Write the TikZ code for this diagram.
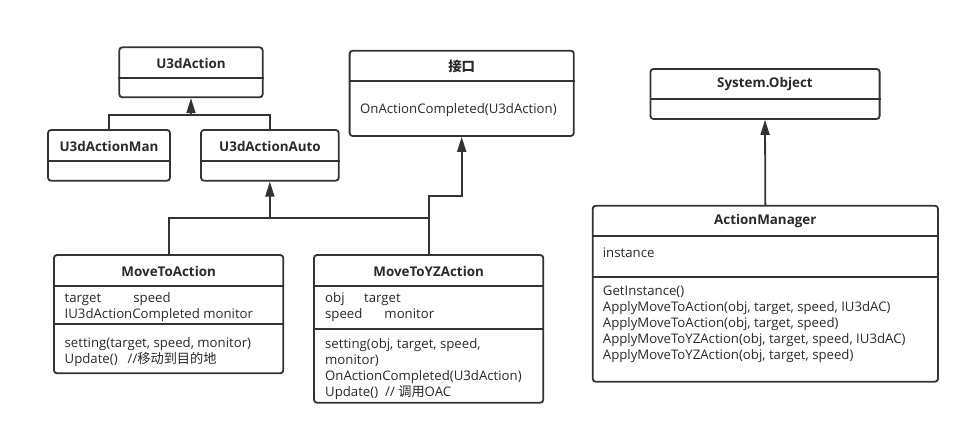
\documentclass[tikz,border=0pt]{standalone}
\usepackage{fontspec}
\setmainfont{Open Sans}
\newfontfamily\cjk{Noto Sans CJK SC}
\usetikzlibrary{arrows.meta,fit}
\definecolor{linec}{HTML}{333333}
\definecolor{textc}{HTML}{2A2A2A}
\begin{document}
\begin{tikzpicture}[x=1pt,y=-1pt,
  box/.style={draw=linec, line width=1.8pt, rounded corners=3pt, inner sep=0pt, fill=white},
  sepl/.style={draw=linec, line width=1.8pt},
  conn/.style={draw=linec, line width=1.8pt},
  inh/.style={conn, -{Triangle[length=15pt,width=9pt]}},
  ttl/.style={font=\fontsize{13.4}{15}\selectfont\bfseries, text=textc, inner sep=0pt},
  txt/.style={font=\fontsize{13.2}{16}\selectfont, text=textc, inner sep=0pt, align=left, anchor=west}]
\useasboundingbox[fill=white] (0,0) rectangle (967,435);

% boxes
\node[box, fit={(119.3,47.3) (262.7,97.3)}] (u3d) {};
\node[box, fit={(48,130) (170,180.7)}] (man) {};
\node[box, fit={(201,130) (338.7,180.7)}] (auto) {};
\node[box, fit={(349.6,50.7) (573.8,136)}] (intf) {};
\node[box, fit={(650.4,69) (879.6,119)}] (so) {};
\node[box, fit={(54,255) (283.3,373.3)}] (mta) {};
\node[box, fit={(314,255) (543.3,402.7)}] (yz) {};
\node[box, fit={(592.7,205.7) (938,381.7)}] (am) {};

% separators
\draw[sepl] (u3d.west |- 0,77.7) -- (u3d.east |- 0,77.7);
\draw[sepl] (man.west |- 0,160.7) -- (man.east |- 0,160.7);
\draw[sepl] (auto.west |- 0,160.7) -- (auto.east |- 0,160.7);
\draw[sepl] (intf.west |- 0,81) -- (intf.east |- 0,81);
\draw[sepl] (so.west |- 0,99) -- (so.east |- 0,99);
\draw[sepl] (mta.west |- 0,285.7) -- (mta.east |- 0,285.7);
\draw[sepl] (mta.west |- 0,324) -- (mta.east |- 0,324);
\draw[sepl] (yz.west |- 0,285.7) -- (yz.east |- 0,285.7);
\draw[sepl] (yz.west |- 0,329.3) -- (yz.east |- 0,329.3);
\draw[sepl] (am.west |- 0,235.7) -- (am.east |- 0,235.7);
\draw[sepl] (am.west |- 0,276.7) -- (am.east |- 0,276.7);

% titles
\node[ttl] (t-u3d) at (191,63) {U3dAction};
\node[ttl] (t-man) at (109,146) {U3dActionMan};
\node[ttl] (t-auto) at (270,146) {U3dActionAuto};
\node[ttl] (t-intf) at (461.7,66.5) {{\cjk 接口}};
\node[ttl] (t-so) at (765,84.5) {System.Object};
\node[ttl] (t-mta) at (168.7,271) {MoveToAction};
\node[ttl] (t-yz) at (428.7,271) {MoveToYZAction};
\node[ttl] (t-am) at (765.3,221.5) {ActionManager};

% members
\node[txt] (intf-m) at (360,110.5) {OnActionCompleted(U3dAction)};
\node[txt] (mta-a) at (64.5,307) {\makebox[68.7pt][l]{target}speed\\IU3dActionCompleted monitor};
\node[txt] (mta-m) at (64.5,351.8) {setting(target, speed, monitor)\\Update()\hspace{10pt}//{\cjk 移动到目的地}};
\node[txt] (yz-a) at (325,307) {\makebox[39pt][l]{obj}target\\\makebox[59.3pt][l]{speed}monitor};
\node[txt] (yz-m) at (325,369.5) {setting(obj, target, speed,\\monitor)\\OnActionCompleted(U3dAction)\\Update()\hspace{7pt}// {\cjk 调用}OAC};
\node[txt] (am-a) at (602.7,253) {instance};
\node[txt] (am-m) at (602.7,324.2) {GetInstance()\\ApplyMoveToAction(obj, target, speed, IU3dAC)\\ApplyMoveToAction(obj, target, speed)\\ApplyMoveToYZAction(obj, target, speed, IU3dAC)\\ApplyMoveToYZAction(obj, target, speed)};

% connectors
\coordinate (j1) at (u3d.south |- 0,115.3);
\draw[inh] (man.north) |- (j1) -- (u3d.south);
\draw[conn] (auto.north) |- (j1);
\coordinate (j2) at (auto.south |- 0,218.3);
\draw[inh] (mta.north) |- (j2) -- (auto.south);
\draw[conn] (yz.north) |- (j2);
\coordinate (j3) at (yz.north |- 0,195.7);
\draw[inh] (yz.north) -- (j3) -| (intf.south);
\draw[inh] (am.north) -- (so.south);
\end{tikzpicture}
\end{document}
